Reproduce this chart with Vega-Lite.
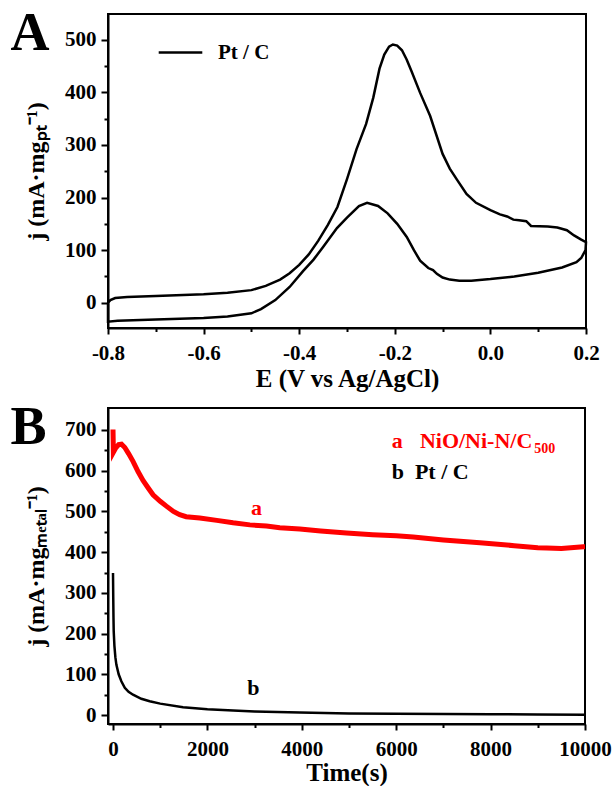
{
  "$schema": "https://vega.github.io/schema/vega-lite/v6.json",
  "padding": {"left": 9, "top": 6, "right": 0, "bottom": 0},
  "spacing": 8,
  "resolve": {"scale": {"color": "independent"}, "legend": {"color": "independent"}},
  "config": {
    "view": {"stroke": "black", "strokeWidth": 2},
    "font": "Liberation Serif",
    "axis": {
      "labelFont": "Liberation Serif", "labelFontWeight": "bold", "labelFontSize": 21, "labelColor": "black",
      "titleFont": "Liberation Serif", "titleFontWeight": "bold", "titleFontSize": 25, "titleColor": "black",
      "domainColor": "black", "domainWidth": 2, "tickColor": "black", "tickWidth": 2,
      "grid": false, "labelFlush": false, "labelOverlap": false, "labelPadding": 8
    },
    "axisY": {"titleFontSize": 24, "titlePadding": 16, "labelPadding": 5},
    "title": {"font": "Liberation Serif", "fontWeight": "bold", "fontSize": 54, "color": "black", "anchor": "start", "frame": "bounds"}
  },
  "datasets": {
    "cv": [
      {"i":1,"E":-0.8,"j":0,"s":"Pt / C"},{"i":2,"E":-0.795,"j":5,"s":"Pt / C"},{"i":3,"E":-0.785,"j":9,"s":"Pt / C"},
      {"i":4,"E":-0.76,"j":11,"s":"Pt / C"},{"i":5,"E":-0.7,"j":13,"s":"Pt / C"},{"i":6,"E":-0.6,"j":16,"s":"Pt / C"},
      {"i":7,"E":-0.55,"j":19,"s":"Pt / C"},{"i":8,"E":-0.5,"j":24,"s":"Pt / C"},{"i":9,"E":-0.47,"j":32,"s":"Pt / C"},
      {"i":10,"E":-0.44,"j":44,"s":"Pt / C"},{"i":11,"E":-0.42,"j":56,"s":"Pt / C"},{"i":12,"E":-0.4,"j":72,"s":"Pt / C"},
      {"i":13,"E":-0.38,"j":92,"s":"Pt / C"},{"i":14,"E":-0.36,"j":118,"s":"Pt / C"},{"i":15,"E":-0.34,"j":148,"s":"Pt / C"},
      {"i":16,"E":-0.32,"j":182,"s":"Pt / C"},{"i":17,"E":-0.3,"j":235,"s":"Pt / C"},{"i":18,"E":-0.28,"j":292,"s":"Pt / C"},
      {"i":19,"E":-0.26,"j":340,"s":"Pt / C"},{"i":20,"E":-0.245,"j":390,"s":"Pt / C"},{"i":21,"E":-0.232,"j":445,"s":"Pt / C"},
      {"i":22,"E":-0.222,"j":472,"s":"Pt / C"},{"i":23,"E":-0.212,"j":487,"s":"Pt / C"},{"i":24,"E":-0.204,"j":491,"s":"Pt / C"},
      {"i":25,"E":-0.195,"j":489,"s":"Pt / C"},{"i":26,"E":-0.185,"j":480,"s":"Pt / C"},{"i":27,"E":-0.175,"j":462,"s":"Pt / C"},
      {"i":28,"E":-0.165,"j":440,"s":"Pt / C"},{"i":29,"E":-0.147,"j":399,"s":"Pt / C"},{"i":30,"E":-0.126,"j":355,"s":"Pt / C"},
      {"i":31,"E":-0.1,"j":283,"s":"Pt / C"},{"i":32,"E":-0.085,"j":255,"s":"Pt / C"},{"i":33,"E":-0.07,"j":234,"s":"Pt / C"},
      {"i":34,"E":-0.05,"j":207,"s":"Pt / C"},{"i":35,"E":-0.03,"j":190,"s":"Pt / C"},{"i":36,"E":0.0,"j":176,"s":"Pt / C"},
      {"i":37,"E":0.02,"j":168,"s":"Pt / C"},{"i":38,"E":0.035,"j":164,"s":"Pt / C"},{"i":39,"E":0.048,"j":158,"s":"Pt / C"},
      {"i":40,"E":0.06,"j":157,"s":"Pt / C"},{"i":41,"E":0.075,"j":155,"s":"Pt / C"},{"i":42,"E":0.085,"j":146,"s":"Pt / C"},
      {"i":43,"E":0.12,"j":145,"s":"Pt / C"},{"i":44,"E":0.14,"j":143,"s":"Pt / C"},{"i":45,"E":0.16,"j":138,"s":"Pt / C"},
      {"i":46,"E":0.175,"j":128,"s":"Pt / C"},{"i":47,"E":0.19,"j":120,"s":"Pt / C"},{"i":48,"E":0.2,"j":115,"s":"Pt / C"},
      {"i":49,"E":0.199,"j":100,"s":"Pt / C"},{"i":50,"E":0.19,"j":85,"s":"Pt / C"},{"i":51,"E":0.18,"j":77,"s":"Pt / C"},
      {"i":52,"E":0.15,"j":67,"s":"Pt / C"},{"i":53,"E":0.1,"j":57,"s":"Pt / C"},{"i":54,"E":0.05,"j":50,"s":"Pt / C"},
      {"i":55,"E":0.0,"j":45,"s":"Pt / C"},{"i":56,"E":-0.04,"j":42,"s":"Pt / C"},{"i":57,"E":-0.065,"j":42,"s":"Pt / C"},
      {"i":58,"E":-0.085,"j":44,"s":"Pt / C"},{"i":59,"E":-0.1,"j":48,"s":"Pt / C"},{"i":60,"E":-0.112,"j":55,"s":"Pt / C"},
      {"i":61,"E":-0.12,"j":62,"s":"Pt / C"},{"i":62,"E":-0.13,"j":66,"s":"Pt / C"},{"i":63,"E":-0.147,"j":80,"s":"Pt / C"},
      {"i":64,"E":-0.16,"j":100,"s":"Pt / C"},{"i":65,"E":-0.175,"j":125,"s":"Pt / C"},{"i":66,"E":-0.195,"j":150,"s":"Pt / C"},
      {"i":67,"E":-0.215,"j":170,"s":"Pt / C"},{"i":68,"E":-0.235,"j":184,"s":"Pt / C"},{"i":69,"E":-0.258,"j":190,"s":"Pt / C"},
      {"i":70,"E":-0.275,"j":184,"s":"Pt / C"},{"i":71,"E":-0.3,"j":162,"s":"Pt / C"},{"i":72,"E":-0.321,"j":142,"s":"Pt / C"},
      {"i":73,"E":-0.35,"j":106,"s":"Pt / C"},{"i":74,"E":-0.37,"j":82,"s":"Pt / C"},{"i":75,"E":-0.392,"j":60,"s":"Pt / C"},
      {"i":76,"E":-0.42,"j":30,"s":"Pt / C"},{"i":77,"E":-0.45,"j":5,"s":"Pt / C"},{"i":78,"E":-0.48,"j":-12,"s":"Pt / C"},
      {"i":79,"E":-0.5,"j":-20,"s":"Pt / C"},{"i":80,"E":-0.55,"j":-26,"s":"Pt / C"},{"i":81,"E":-0.6,"j":-29,"s":"Pt / C"},
      {"i":82,"E":-0.7,"j":-32,"s":"Pt / C"},{"i":83,"E":-0.78,"j":-34,"s":"Pt / C"},{"i":84,"E":-0.8,"j":-36,"s":"Pt / C"},
      {"i":85,"E":-0.8,"j":0,"s":"Pt / C"}
    ],
    "red": [
      {"t":0,"j":701},{"t":8,"j":645},{"t":60,"j":656},{"t":120,"j":664},{"t":180,"j":665},{"t":250,"j":657},
      {"t":330,"j":642},{"t":424,"j":623},{"t":530,"j":598},{"t":636,"j":576},{"t":750,"j":557},{"t":848,"j":541},
      {"t":1000,"j":525},{"t":1131,"j":513},{"t":1280,"j":500},{"t":1413,"j":492},{"t":1550,"j":487},{"t":1838,"j":484},
      {"t":2200,"j":478},{"t":2544,"j":472},{"t":2900,"j":467},{"t":3251,"j":464},{"t":3534,"j":460},{"t":3958,"j":457},
      {"t":4400,"j":452},{"t":4947,"j":447},{"t":5500,"j":443},{"t":6000,"j":440},{"t":6360,"j":437},{"t":7000,"j":430},
      {"t":7774,"j":423},{"t":8500,"j":416},{"t":9000,"j":411},{"t":9187,"j":410},{"t":9500,"j":409},{"t":9964,"j":413},
      {"t":10000,"j":413}
    ],
    "black": [
      {"t":0,"j":349},{"t":5,"j":290},{"t":10,"j":240},{"t":15,"j":206},{"t":30,"j":170},{"t":50,"j":142},
      {"t":71,"j":124},{"t":120,"j":100},{"t":177,"j":83},{"t":250,"j":67},{"t":330,"j":57},{"t":424,"j":50},
      {"t":600,"j":40},{"t":777,"j":34},{"t":1000,"j":28},{"t":1484,"j":19},{"t":2000,"j":14},{"t":2544,"j":11},
      {"t":3000,"j":9},{"t":3958,"j":6},{"t":5000,"j":4},{"t":6000,"j":3},{"t":7000,"j":2.5},{"t":8000,"j":2},
      {"t":9000,"j":1.5},{"t":10000,"j":1}
    ],
    "curvelabels": [
      {"t":3040,"j":492,"text":"a","series":"a"},
      {"t":2972,"j":50,"text":"b","series":"b"}
    ],
    "keytext": [
      {"t":5908,"j":656,"text":"a","series":"a"},
      {"t":6502,"j":656,"text":"NiO/Ni-N/C","series":"a"},
      {"t":5908,"j":580,"text":"b","series":"b"},
      {"t":6396,"j":580,"text":"Pt / C","series":"b"}
    ],
    "keysub": [
      {"t":8925,"j":644,"text":"500","series":"a"}
    ]
  },
  "vconcat": [
    {
      "width": 478,
      "height": 314,
      "title": {"text": "A", "dx": -14, "dy": 47, "offset": 0},
      "data": {"name": "cv"},
      "mark": {"type": "line", "strokeWidth": 2.5, "color": "black"},
      "encoding": {
        "x": {
          "field": "E", "type": "quantitative",
          "scale": {"domain": [-0.8, 0.2], "nice": false, "zero": false},
          "axis": {
            "title": "E (V vs Ag/AgCl)",
            "values": [-0.8,-0.7,-0.6,-0.5,-0.4,-0.3,-0.2,-0.1,0,0.1,0.2],
            "labelExpr": "round(datum.value*10) % 2 == 0 ? replace(format(datum.value, '.1f'), '\u2212', '-') : ''",
            "tickSize": {"condition": {"test": "round(datum.value*10) % 2 == 0", "value": 6}, "value": 3.5},
            "titlePadding": 3
          }
        },
        "y": {
          "field": "j", "type": "quantitative",
          "scale": {"domain": [-48, 549], "nice": false, "zero": false},
          "axis": {
            "title": "j (mA·mgₚₜ⁻¹)",
            "values": [0,50,100,150,200,250,300,350,400,450,500],
            "labelExpr": "datum.value % 100 == 0 ? datum.label : ''",
            "tickSize": {"condition": {"test": "datum.value % 100 == 0", "value": 7}, "value": 4}
          }
        },
        "order": {"field": "i", "type": "quantitative"},
        "color": {
          "field": "s", "type": "nominal",
          "scale": {"domain": ["Pt / C"], "range": ["black"]},
          "legend": {
            "title": null, "orient": "none", "legendX": 49, "legendY": 15, "padding": 0,
            "symbolType": "stroke", "symbolSize": 1900, "symbolStrokeWidth": 2.5,
            "labelFont": "Liberation Serif", "labelFontWeight": "bold", "labelFontSize": 21,
            "labelColor": "black", "labelOffset": 14
          }
        }
      }
    },
    {
      "width": 477,
      "height": 316,
      "title": {"text": "B", "dx": -14, "dy": 47, "offset": 0},
      "encoding": {
        "x": {
          "field": "t", "type": "quantitative",
          "scale": {"domain": [-106, 10000], "nice": false, "zero": false},
          "axis": {
            "title": "Time(s)",
            "values": [0,1000,2000,3000,4000,5000,6000,7000,8000,9000,10000],
            "labelExpr": "datum.value % 2000 == 0 ? datum.value + '' : ''",
            "tickSize": {"condition": {"test": "datum.value % 2000 == 0", "value": 6}, "value": 3.5},
            "titlePadding": 1
          }
        },
        "y": {
          "field": "j", "type": "quantitative",
          "scale": {"domain": [-22, 754], "nice": false, "zero": false},
          "axis": {
            "title": "j (mA·mgₘₑₜₐₗ⁻¹)",
            "values": [0,50,100,150,200,250,300,350,400,450,500,550,600,650,700],
            "labelExpr": "datum.value % 100 == 0 ? datum.label : ''",
            "tickSize": {"condition": {"test": "datum.value % 100 == 0", "value": 7}, "value": 4}
          }
        }
      },
      "layer": [
        {
          "data": {"name": "red"},
          "mark": {"type": "line", "strokeWidth": 5, "color": "#ff0000"}
        },
        {
          "data": {"name": "black"},
          "mark": {"type": "line", "strokeWidth": 2.5, "color": "black"}
        },
        {
          "data": {"name": "curvelabels"},
          "mark": {"type": "text", "font": "Liberation Serif", "fontWeight": "bold", "fontSize": 22, "align": "center", "baseline": "alphabetic"},
          "encoding": {
            "text": {"field": "text"},
            "color": {"field": "series", "type": "nominal", "scale": {"domain": ["a", "b"], "range": ["#ff0000", "black"]}, "legend": null}
          }
        },
        {
          "data": {"name": "keytext"},
          "mark": {"type": "text", "font": "Liberation Serif", "fontWeight": "bold", "fontSize": 22, "align": "left", "baseline": "alphabetic"},
          "encoding": {
            "text": {"field": "text"},
            "color": {"field": "series", "type": "nominal", "scale": {"domain": ["a", "b"], "range": ["#ff0000", "black"]}, "legend": null}
          }
        },
        {
          "data": {"name": "keysub"},
          "mark": {"type": "text", "font": "Liberation Serif", "fontWeight": "bold", "fontSize": 14, "align": "left", "baseline": "alphabetic"},
          "encoding": {
            "text": {"field": "text"},
            "color": {"field": "series", "type": "nominal", "scale": {"domain": ["a", "b"], "range": ["#ff0000", "black"]}, "legend": null}
          }
        }
      ]
    }
  ]
}
